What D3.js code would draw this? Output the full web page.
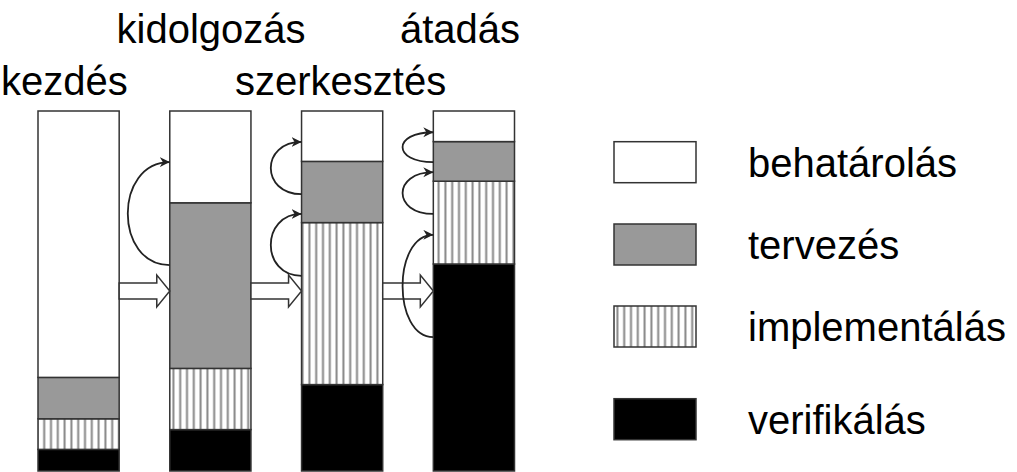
<!DOCTYPE html>
<meta charset="utf-8">
<script src="https://d3js.org/d3.v7.min.js"></script>
<style>
  body { margin: 0; background: #fff; }
  text { font-family: "Liberation Sans", Arial, sans-serif; fill: #000; }
</style>
<div id="my_dataviz"></div>
<script>
  // phases (bars) and the share of each activity in them, bottom to top
  var phases = ["kezdés", "kidolgozás", "szerkesztés", "átadás"];
  var verifikalas   = [6, 11.5, 24, 57.5];
  var implementalas = [8.5, 17, 45, 23];
  var tervezes      = [11.5, 46, 17, 11];
  var behatarolas   = [74, 25.5, 14, 8.5];

  var keys = ["verifikálás", "implementálás", "tervezés", "behatárolás"];
  var legendOrder = ["behatárolás", "tervezés", "implementálás", "verifikálás"];

  // feedback arrows: bar index, from value, to value (on the bar's left side)
  var loopBar  = [1, 2, 2, 3, 3, 3];
  var loopFrom = [57.2, 76.9, 54.2, 85.8, 71.4, 37.2];
  var loopTo   = [85.8, 91.4, 71.4, 94.1, 83, 65.6];

  var width = 1017, height = 472;

  var svg = d3.select("#my_dataviz")
    .append("svg")
      .attr("width", width)
      .attr("height", height);

  var defs = svg.append("defs");
  var hatch = defs.append("pattern")
      .attr("id", "hatch")
      .attr("patternUnits", "userSpaceOnUse")
      .attr("width", 6.8)
      .attr("height", 10);
  hatch.append("rect").attr("width", 6.8).attr("height", 10).attr("fill", "#fff");
  hatch.append("line")
      .attr("x1", 3.4).attr("x2", 3.4).attr("y1", 0).attr("y2", 10)
      .attr("stroke", "#868686").attr("stroke-width", 2);

  defs.append("marker")
      .attr("id", "head")
      .attr("markerUnits", "userSpaceOnUse")
      .attr("markerWidth", 12).attr("markerHeight", 12)
      .attr("refX", 10).attr("refY", 5)
      .attr("orient", "auto")
    .append("path")
      .attr("d", "M0,0 L10,5 L0,10 L3,5 Z")
      .attr("fill", "#222");

  var fills = {
    "behatárolás": "#fff",
    "tervezés": "#999",
    "implementálás": "url(#hatch)",
    "verifikálás": "#000"
  };

  var x = d3.scaleBand()
    .domain(phases)
    .range([38, 514.5])
    .paddingInner(0.384)
    .paddingOuter(0);

  var y = d3.scaleLinear()
    .domain([0, 100])
    .range([471, 111]);

  var rows = phases.map(function(p, i) {
    return {
      phase: p,
      "verifikálás": verifikalas[i],
      "implementálás": implementalas[i],
      "tervezés": tervezes[i],
      "behatárolás": behatarolas[i]
    };
  });

  var series = d3.stack().keys(keys)(rows);

  svg.append("g")
    .selectAll("g")
    .data(series)
    .enter()
    .append("g")
      .attr("fill", function(d) { return fills[d.key]; })
    .selectAll("rect")
    .data(function(d) { return d; })
    .enter()
    .append("rect")
      .attr("x", function(d) { return x(d.data.phase); })
      .attr("y", function(d) { return y(d[1]); })
      .attr("width", x.bandwidth())
      .attr("height", function(d) { return y(d[0]) - y(d[1]); })
      .attr("stroke", "#333")
      .attr("stroke-width", 1.5);

  // phase labels, staggered on two rows
  var labelX = [1, 116.5, 235, 400];
  var labelY = [95, 43, 95, 43];
  svg.append("g")
    .selectAll("text")
    .data(phases)
    .enter()
    .append("text")
      .attr("x", function(d, i) { return labelX[i]; })
      .attr("y", function(d, i) { return labelY[i]; })
      .style("font-size", "40px")
      .text(function(d) { return d; });

  // hollow block arrows between the bars
  var arrowY = y(50);
  svg.append("g")
    .selectAll("path")
    .data(phases.slice(0, -1))
    .enter()
    .append("path")
      .attr("d", function(d, i) {
        var x0 = x(d) + x.bandwidth();
        var x1 = x(phases[i + 1]);
        var xh = x1 - 13;
        return d3.line()([
          [x0, arrowY - 8], [xh, arrowY - 8], [xh, arrowY - 16], [x1, arrowY],
          [xh, arrowY + 16], [xh, arrowY + 8], [x0, arrowY + 8]
        ]) + "Z";
      })
      .attr("fill", "#fff")
      .attr("stroke", "#333")
      .attr("stroke-width", 1.5);

  // curved feedback arrows
  svg.append("g")
    .selectAll("path")
    .data(loopBar)
    .enter()
    .append("path")
      .attr("d", function(b, i) {
        var bx = x(phases[b]);
        var off = b === 1 ? 56 : 41;
        var p = d3.path();
        p.moveTo(bx, y(loopFrom[i]));
        p.bezierCurveTo(bx - off, y(loopFrom[i]), bx - off, y(loopTo[i]), bx, y(loopTo[i]));
        return p.toString();
      })
      .attr("fill", "none")
      .attr("stroke", "#222")
      .attr("stroke-width", 1.8)
      .attr("marker-end", "url(#head)");

  // legend
  var legendY = [141.7, 224, 306, 398.7];
  var legend = svg.append("g")
    .selectAll("g")
    .data(legendOrder)
    .enter()
    .append("g")
      .attr("transform", function(d, i) { return "translate(614," + legendY[i] + ")"; });

  legend.append("rect")
      .attr("width", 82)
      .attr("height", 41)
      .attr("fill", function(d) { return fills[d]; })
      .attr("stroke", "#333")
      .attr("stroke-width", 1.5);

  legend.append("text")
      .attr("x", 134)
      .attr("y", 35)
      .style("font-size", "40px")
      .text(function(d) { return d; });
</script>
